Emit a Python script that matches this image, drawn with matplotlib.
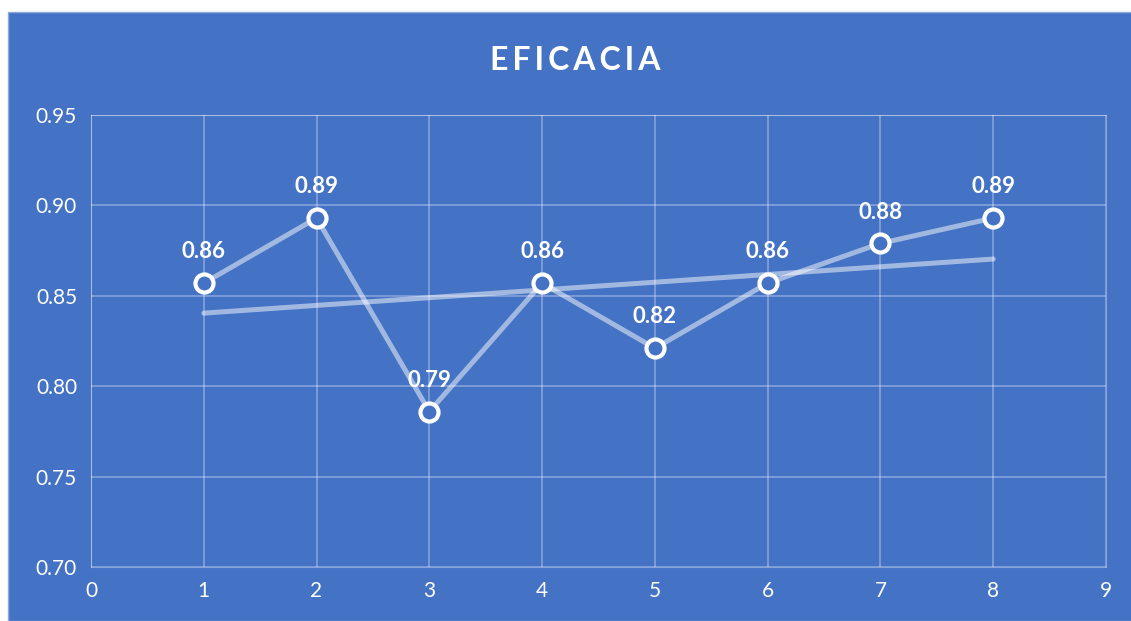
import matplotlib.pyplot as plt
import numpy as np
from matplotlib.patches import Rectangle

# valores
ensayos = [1, 2, 3, 4, 5, 6, 7, 8]
eficacia = [0.857, 0.893, 0.786, 0.857, 0.821, 0.857, 0.879, 0.893]
etiquetas = ["0.86", "0.89", "0.79", "0.86", "0.82", "0.86", "0.88", "0.89"]

azul = "#4472C4"
plt.rcParams["font.family"] = ["Lato", "DejaVu Sans"]

fig = plt.figure(figsize=(11.31, 6.21), dpi=100)
fig.patch.set_facecolor("white")
fig.patches.append(Rectangle((8 / 1131, 0), 1, 1 - 12 / 621, transform=fig.transFigure,
                             facecolor=azul, edgecolor="#8FAADC", linewidth=1, zorder=-10))

ax = fig.add_axes([91 / 1131, 1 - 567 / 621, 1015 / 1131, 452 / 621])
ax.set_facecolor(azul)
ax.set_xlim(0, 9)
ax.set_ylim(0.70, 0.95)
ax.set_xticks(range(10))
ax.set_yticks(np.arange(0.70, 0.951, 0.05))
ax.yaxis.set_major_formatter(plt.FormatStrFormatter("%.2f"))
ax.grid(True, color="white", alpha=0.35, linewidth=1.2)
for s in ax.spines.values():
    s.set_color("white")
    s.set_alpha(0.35)
ax.tick_params(length=0, colors="white", labelsize=15, pad=10)
ax.set_axisbelow(True)

# linea de tendencia lineal
m, b = np.polyfit(ensayos, eficacia, 1)
xt = np.array([ensayos[0], ensayos[-1]])
ax.plot(xt, m * xt + b, color="white", alpha=0.5, linewidth=3.6, solid_capstyle="round")

ax.plot(ensayos, eficacia, color="white", alpha=0.5, linewidth=3.6, solid_capstyle="round")
ax.plot(ensayos, eficacia, linestyle="none", marker="o", markersize=13,
        markerfacecolor=azul, markeredgecolor="white", markeredgewidth=3)

for x, y, t in zip(ensayos, eficacia, etiquetas):
    ax.annotate(t, (x, y), xytext=(0, 15), textcoords="offset points",
                ha="center", va="bottom", color="white", fontsize=16, fontweight="bold")

fig.text(0.509, 1 - 60 / 621, "E\u2009F\u2009I\u2009C\u2009A\u2009C\u2009I\u2009A", ha="center", va="center",
         color="white", fontsize=23, fontweight="bold")

fig.savefig("out.png", dpi=100, facecolor=fig.get_facecolor())
